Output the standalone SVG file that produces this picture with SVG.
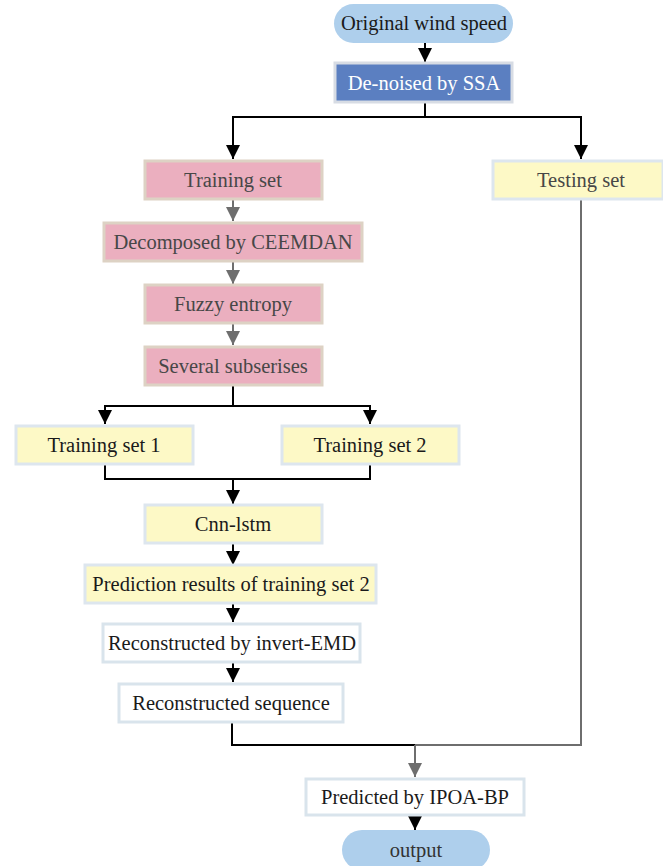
<svg xmlns="http://www.w3.org/2000/svg" width="663" height="866" viewBox="0 0 663 866">
  <style>
    text { font-family: "Liberation Serif", "Times New Roman", serif; font-size: 20.5px; text-anchor: middle; dominant-baseline: central; }
    .pill { fill: #aecfec; }
    .blue { fill: #5b7fc1; stroke: #d7dce4; stroke-width: 3; }
    .pink { fill: #ebafbf; stroke: #ddd2c4; stroke-width: 3; }
    .yellow { fill: #fdf9c6; stroke: #dde6ee; stroke-width: 3; }
    .white { fill: #ffffff; stroke: #d9e4ec; stroke-width: 3; }
    .dark { fill: #1a1a1a; }
    .grey { fill: #474747; }
    .k { fill: none; stroke: #000; stroke-width: 2; }
    .g { fill: none; stroke: #6e6e6e; stroke-width: 2; }
  </style>
  <defs>
    <marker id="ak" viewBox="0 0 10 10" refX="10" refY="5" markerWidth="7" markerHeight="7" markerUnits="strokeWidth" orient="auto">
      <path d="M0,0 L10,5 L0,10 z" fill="#000"/>
    </marker>
    <marker id="ag" viewBox="0 0 10 10" refX="10" refY="5" markerWidth="7" markerHeight="7" markerUnits="strokeWidth" orient="auto">
      <path d="M0,0 L10,5 L0,10 z" fill="#6e6e6e"/>
    </marker>
  </defs>

  <g id="connectors">
    <path class="k" d="M425,43 V62" marker-end="url(#ak)"/>
    <path class="k" d="M425,102 V117 H233 V159" marker-end="url(#ak)"/>
    <path class="k" d="M425,117 H581 V159" marker-end="url(#ak)"/>
    <path class="g" d="M233,200 V221" marker-end="url(#ag)"/>
    <path class="g" d="M233,262 V284" marker-end="url(#ag)"/>
    <path class="g" d="M233,324 V345" marker-end="url(#ag)"/>
    <path class="k" d="M233,386 V406 H105 V424" marker-end="url(#ak)"/>
    <path class="k" d="M233,406 H370 V424" marker-end="url(#ak)"/>
    <path class="k" d="M105,465 V479 H370 V465"/>
    <path class="k" d="M233,479 V504" marker-end="url(#ak)"/>
    <path class="k" d="M233,544 V565" marker-end="url(#ak)"/>
    <path class="k" d="M233,604 V622" marker-end="url(#ak)"/>
    <path class="k" d="M233,663 V682" marker-end="url(#ak)"/>
    <path class="k" d="M232,723 V745 H415"/>
    <path class="g" d="M581,200 V745 H415"/>
    <path class="g" d="M415,745 V777" marker-end="url(#ag)"/>
    <path class="k" d="M415,816 V830" marker-end="url(#ak)"/>
  </g>

  <g id="original">
    <rect class="pill" x="334" y="4" width="179" height="39" rx="19.5"/>
    <text class="dark" x="424" y="23">Original wind speed</text>
  </g>
  <g id="ssa">
    <rect class="blue" x="335" y="63" width="177" height="39"/>
    <text x="424" y="83" fill="#ffffff">De-noised by SSA</text>
  </g>
  <g id="training">
    <rect class="pink" x="145" y="161" width="177" height="38"/>
    <text class="grey" x="233" y="180">Training set</text>
  </g>
  <g id="testing">
    <rect class="yellow" x="493" y="161" width="170" height="38"/>
    <text class="grey" x="581" y="180">Testing set</text>
  </g>
  <g id="ceemdan">
    <rect class="pink" x="104" y="223" width="258" height="38"/>
    <text class="grey" x="233" y="242">Decomposed by CEEMDAN</text>
  </g>
  <g id="fuzzy">
    <rect class="pink" x="145" y="285" width="177" height="38"/>
    <text class="grey" x="233" y="304">Fuzzy entropy</text>
  </g>
  <g id="subseries">
    <rect class="pink" x="145" y="347" width="177" height="38"/>
    <text class="grey" x="233" y="366">Several subserises</text>
  </g>
  <g id="train1">
    <rect class="yellow" x="16" y="426" width="177" height="38"/>
    <text class="dark" x="104" y="445">Training set 1</text>
  </g>
  <g id="train2">
    <rect class="yellow" x="282" y="426" width="177" height="38"/>
    <text class="dark" x="370" y="445">Training set 2</text>
  </g>
  <g id="cnnlstm">
    <rect class="yellow" x="145" y="505" width="177" height="38"/>
    <text class="dark" x="233" y="524">Cnn-lstm</text>
  </g>
  <g id="prediction">
    <rect class="yellow" x="85" y="565" width="291" height="38"/>
    <text class="dark" x="231" y="584">Prediction results of training set 2</text>
  </g>
  <g id="invert">
    <rect class="white" x="103" y="624" width="257" height="38"/>
    <text class="dark" x="232" y="643">Reconstructed by invert-EMD</text>
  </g>
  <g id="sequence">
    <rect class="white" x="119" y="684" width="224" height="38"/>
    <text class="dark" x="231" y="703">Reconstructed sequence</text>
  </g>
  <g id="ipoa">
    <rect class="white" x="306" y="779" width="218" height="36"/>
    <text class="dark" x="415" y="797">Predicted by IPOA-BP</text>
  </g>
  <g id="output">
    <rect class="pill" x="342" y="830" width="148" height="40" rx="20"/>
    <text x="416" y="850" fill="#333333">output</text>
  </g>
</svg>
